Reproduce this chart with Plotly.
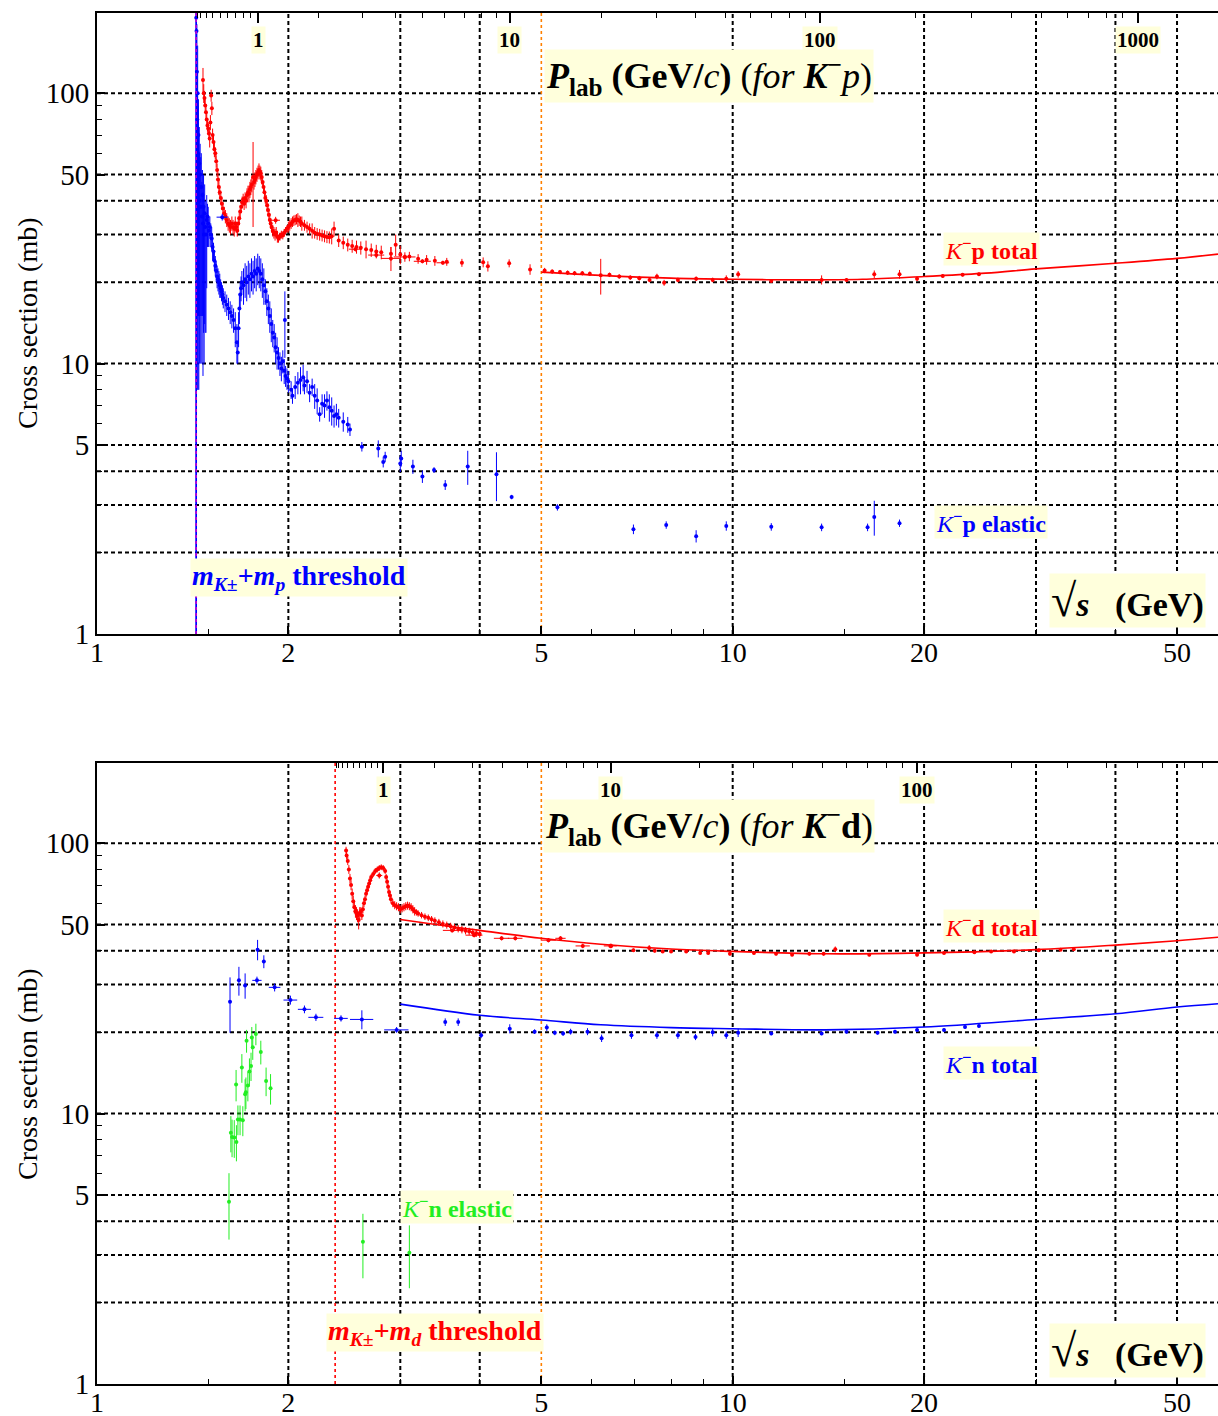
import numpy as np
import plotly.graph_objects as go

# ---------------- physics constants for the P_lab axis ----------------
MK, MP, MD = 0.493677, 0.938272, 1.875613

def sqrt_s(p, mt):
    p = np.asarray(p, float)
    return np.sqrt(MK**2 + mt**2 + 2 * mt * np.sqrt(p**2 + MK**2))

# ---------------- axis ticks ----------------
x_major = [1, 2, 5, 10, 20, 50]
x_minor = [1.5, 3, 4, 6, 7, 8, 9, 15, 30, 40]
y_major = [1, 5, 10, 50, 100]
y_minor = [2, 3, 4, 6, 7, 8, 9, 20, 30, 40, 60, 70, 80, 90]
grid_x = [2, 3, 4, 10, 20, 30, 40, 50]
grid_y = [2, 3, 4, 5, 10, 20, 30, 40, 50, 100]
orange_x = 5
plab_major = [1, 10, 100, 1000]
plab_minor = [0.1, 0.2, 0.3, 0.4, 0.5, 0.6, 0.7, 0.8, 0.9,
              2, 3, 4, 5, 6, 7, 8, 9, 20, 30, 40, 50, 60, 70, 80, 90,
              200, 300, 400, 500, 600, 700, 800, 900]

# ---------------- K-p total (top, red) ----------------
kp_tot_x = [1.468, 1.472, 1.476, 1.480, 1.484, 1.488, 1.492, 1.496, 1.500, 1.504,
            1.508, 1.512, 1.516, 1.520, 1.525, 1.530, 1.535, 1.540, 1.545, 1.550,
            1.555, 1.560, 1.566, 1.572, 1.578, 1.585, 1.592, 1.600, 1.608, 1.615,
            1.622, 1.630, 1.637, 1.644, 1.650, 1.656, 1.662, 1.668, 1.674, 1.680,
            1.686, 1.692, 1.698, 1.704, 1.710, 1.716, 1.722, 1.728, 1.734, 1.740,
            1.746, 1.752, 1.760, 1.766, 1.772, 1.778, 1.785, 1.792, 1.798, 1.804,
            1.810, 1.816, 1.822, 1.828, 1.834, 1.840, 1.846, 1.852, 1.858, 1.864,
            1.870, 1.876, 1.882, 1.890, 1.898, 1.906, 1.914, 1.922, 1.930, 1.940,
            1.950, 1.960, 1.970, 1.980, 1.990, 2.000, 2.010, 2.020, 2.030, 2.040,
            2.050, 2.060, 2.070, 2.080, 2.090, 2.100, 2.120, 2.140, 2.160, 2.180,
            2.200, 2.220, 2.240, 2.260, 2.280, 2.300, 2.320, 2.340, 2.360, 2.400,
            2.440, 2.480, 2.520, 2.560, 2.600, 2.650, 2.700, 2.750, 2.800, 2.900,
            2.950, 3.000, 3.050, 3.100, 3.200, 3.300, 3.400, 3.550, 3.750, 4.050,
            4.120, 4.450, 4.800, 5.060, 5.200, 5.350, 5.500, 5.640, 5.800, 5.960,
            6.200, 6.400, 6.630, 6.900, 7.130, 7.400, 7.600, 7.800, 8.200, 8.760,
            9.300, 9.770, 10.20, 11.50, 13.80, 15.10, 16.70, 18.30, 19.50, 21.40,
            23.00, 24.40]
kp_tot_y = [112, 100, 96, 90, 85, 80, 76, 74, 71, 68,
            78, 98, 88, 70, 66, 62, 60, 56, 52, 48,
            45, 43, 41, 39, 37.5, 36, 35, 34, 33, 32.5,
            32, 33, 32, 31.5, 33, 32, 31, 33, 34.5, 36.5,
            38, 39.5, 40.5, 39, 41, 40, 42, 43, 42.5, 44,
            45, 46, 49, 47, 48, 49, 50, 51, 52, 51,
            50.5, 49, 47, 45, 43, 41, 40, 38.5, 37, 35.5,
            34, 33, 32, 31, 30.5, 30, 30.5, 29.5, 29, 29.5,
            30, 29.8, 30.5, 31, 31.5, 32, 32.5, 33, 33.5, 33.8,
            34, 34.2, 34, 33.8, 33.5, 33, 32.5, 32, 31.5, 31,
            30.5, 30.2, 30, 29.8, 29.6, 29.4, 29.3, 29.6, 31.5, 28.5,
            28, 27.5, 27.2, 27, 26.8, 26.5, 26.3, 26, 25.8, 25.5,
            27.5, 25.3, 24.8, 24.9, 24.4, 24.2, 24, 23.8, 23.6, 23.7,
            22.9, 23.5, 22.3, 22.1, 21.9, 21.8, 21.7, 21.6, 21.6, 21.5,
            21.2, 21.3, 21.0, 20.8, 20.7, 20.4, 21.0, 19.9, 20.4, 20.6,
            20.4, 20.6, 21.4, 20.2, 20.4, 20.4, 21.4, 21.4, 20.6, 21.1,
            21.3, 21.4]
kp_tot_err = [12, 8, 6, 5, 6, 5, 4, 4, 4, 5,
              5, 5, 5, 4, 4, 4, 3, 3, 3, 3,
              3, 2, 2, 2, 2, 2, 2, 2, 2, 2,
              2, 2, 2, 2, 2, 1.5, 1.5, 2, 2, 2,
              2, 2, 2, 2, 2, 2.5, 2.5, 2.5, 3, 3,
              3, 3, 17, 3, 3, 3, 3, 3, 3, 3,
              3, 3, 2, 2, 2, 2, 2, 2, 2, 1.5,
              1.5, 1.5, 1.5, 1.5, 1.5, 1.5, 1.5, 1.5, 1, 1,
              1, 1, 1, 1, 1, 1.5, 1.5, 1.5, 1.5, 1.5,
              1.5, 1.5, 2, 1.5, 1.5, 2, 1.5, 1.5, 1.5, 2,
              1.5, 1.5, 1.5, 1.5, 1.5, 1.5, 1.5, 2, 2, 1.5,
              1.5, 1.5, 1.5, 1.5, 1.5, 2, 1.5, 1.5, 1.5, 1.5,
              2.5, 2, 1, 1, 1, 1, 1, 0.8, 0.8, 1,
              1, 0.8, 1, 0.5, 0.4, 0.4, 0.4, 0.4, 0.4, 0.4,
              3.2, 0.4, 0.4, 0.4, 0.4, 0.4, 0.5, 0.5, 0.4, 0.4,
              0.4, 0.6, 0.6, 0.3, 0.8, 0.3, 0.7, 0.8, 0.4, 0.3,
              0.3, 0.3]
kp_tot_hx = [1.91, 2.55, 2.75, 2.90, 3.05, 3.25, 3.50]
kp_tot_hy = [33.9, 26.5, 25.2, 24.5, 24.8, 23.9, 23.6]
kp_tot_hxerr = [0.03, 0.06, 0.08, 0.10, 0.12, 0.10, 0.08]
kp_tot_hyerr = [1.0, 0.5, 0.5, 2.5, 0.5, 0.4, 0.4]
kp_fit_x = [5.0, 6.2, 8.0, 10.0, 13.0, 16.0, 20.0, 25.0, 30.0, 40.0, 50.0, 58.0]
kp_fit_y = [21.8, 21.2, 20.7, 20.5, 20.4, 20.5, 21.0, 21.6, 22.4, 23.5, 24.5, 25.4]

# ---------------- K-p elastic (top, blue) ----------------
kp_el_thr_x = [1.4325, 1.434, 1.436, 1.438, 1.440, 1.442, 1.444, 1.446, 1.448, 1.450,
               1.453, 1.456, 1.459, 1.462, 1.465, 1.468, 1.471, 1.474, 1.477, 1.480,
               1.484, 1.488, 1.492, 1.496]
kp_el_thr_y = [190, 170, 120, 80, 100, 60, 70, 45, 55, 40,
               50, 38, 45, 35, 42, 33, 38, 30, 36, 32,
               30, 34, 35, 33]
kp_el_thr_ep = [8, 28, 60, 40, 50, 30, 25, 30, 20, 20,
                15, 20, 15, 12, 10, 10, 12, 8, 10, 8,
                6, 8, 4, 5]
kp_el_thr_em = [189, 169, 110, 72, 85, 52, 55, 37, 40, 30,
                35, 28, 30, 25, 27, 24, 25, 20, 22, 19,
                17, 15, 8, 6]
kp_el_x = [1.500, 1.505, 1.510, 1.515, 1.520, 1.525, 1.530, 1.535, 1.540, 1.545,
           1.550, 1.555, 1.560, 1.565, 1.570, 1.575, 1.580, 1.590, 1.600, 1.610,
           1.620, 1.630, 1.640, 1.650, 1.660, 1.665, 1.670, 1.675, 1.680, 1.685,
           1.690, 1.700, 1.710, 1.720, 1.730, 1.740, 1.750, 1.760, 1.770, 1.780,
           1.790, 1.800, 1.810, 1.820, 1.830, 1.840, 1.850, 1.860, 1.870, 1.880,
           1.890, 1.900, 1.910, 1.920, 1.930, 1.940, 1.950, 1.960, 1.970, 1.975,
           1.980, 1.990, 2.000, 2.020, 2.030, 2.050, 2.070, 2.090, 2.110, 2.120,
           2.140, 2.160, 2.180, 2.200, 2.220, 2.240, 2.260, 2.280, 2.300, 2.320,
           2.340, 2.360, 2.380, 2.400, 2.440, 2.480, 2.500, 2.610, 2.770, 2.820,
           2.840, 3.000, 3.010, 3.140, 3.250, 3.390, 3.530, 3.830, 4.250, 4.490,
           5.300, 6.980, 7.860, 8.760, 9.770, 11.50, 13.80, 16.30, 16.70, 18.30]
kp_el_y = [31, 32, 30, 29, 27, 26, 24, 23, 22, 21,
           20.5, 20, 19.5, 19, 18.5, 18, 17.5, 17, 16.5, 16,
           15.5, 15, 14.5, 13.5, 12, 11, 13.5, 16, 18, 19,
           20, 19.5, 20.5, 20, 21, 20.5, 21.5, 21, 22, 21.5,
           22.5, 22, 21.5, 20.5, 19.5, 18.5, 17, 16, 15, 14,
           13, 12.5, 11.5, 11, 10.5, 10, 9.6, 10.2, 9.4, 14.5,
           9.0, 8.8, 8.6, 8.0, 7.6, 8.2, 8.5, 8.7, 8.9, 8.3,
           8.6, 7.8, 8.2, 7.6, 7.3, 6.5, 7.1, 7.0, 7.3, 6.9,
           6.7, 6.4, 6.5, 6.3, 6.1, 5.95, 5.7, 4.93, 4.85, 4.33,
           4.52, 4.27, 4.46, 4.16, 3.82, 4.04, 3.56, 4.16, 3.9, 3.21,
           2.94, 2.44, 2.53, 2.30, 2.51, 2.49, 2.48, 2.48, 2.71, 2.57]
kp_el_err = [4, 3, 3, 3, 3, 2, 2, 2, 2, 2,
             2, 2, 2, 1.5, 1.5, 1.5, 1.5, 1.5, 1.5, 1.5,
             1.5, 1.5, 1.5, 2, 2, 1, 2, 2, 2, 2,
             2, 3, 3, 3, 3, 3, 3, 3, 3, 3,
             3, 3, 3, 3, 3, 2, 2, 2, 2, 2,
             1.5, 1.5, 1.5, 1.5, 1, 1, 1, 1, 1, 4,
             0.8, 0.8, 0.8, 0.6, 0.5, 0.8, 0.8, 1, 1, 0.6,
             0.8, 0.6, 0.6, 0.8, 0.8, 0.4, 0.6, 0.7, 0.6, 0.8,
             0.8, 0.6, 0.6, 0.5, 0.5, 0.4, 0.3, 0.2, 0.35, 0.2,
             0.2, 0.3, 0.3, 0.25, 0.2, 0.1, 0.15, 0.6, 0.8, 0.06,
             0.08, 0.1, 0.08, 0.12, 0.1, 0.08, 0.08, 0.08, 0.4, 0.08]
kp_el_hx = [1.574]
kp_el_hy = [34.8]
kp_el_hxerr = [0.032]

# ---------------- K-d total (bottom, red) ----------------
kd_tot_x = [2.465, 2.470, 2.480, 2.490, 2.500, 2.510, 2.520, 2.530, 2.540, 2.550,
            2.560, 2.570, 2.580, 2.590, 2.600, 2.610, 2.620, 2.630, 2.640, 2.650,
            2.660, 2.670, 2.680, 2.690, 2.700, 2.720, 2.740, 2.760, 2.780, 2.800,
            2.820, 2.840, 2.850, 2.860, 2.870, 2.880, 2.890, 2.900, 2.920, 2.940,
            2.960, 2.980, 3.000, 3.020, 3.040, 3.060, 3.080, 3.100, 3.120, 3.140,
            3.160, 3.180, 3.200, 3.240, 3.280, 3.320, 3.360, 3.400, 3.450, 3.500,
            3.550, 3.600, 3.650, 3.700, 3.750, 3.800, 3.850, 3.900, 3.950, 4.000,
            6.440, 6.980, 7.390, 7.540, 7.760, 8.000, 8.450, 8.890, 9.150, 9.900,
            10.80, 11.70, 12.40, 13.20, 13.90, 14.50, 16.40, 19.50, 21.50, 24.00,
            25.50, 27.70, 30.30, 32.80, 34.40]
kd_tot_y = [94, 90, 86, 80, 74, 70, 65, 61, 58, 56,
            55, 54, 52, 55, 56, 54, 57, 60, 62, 65,
            67, 69, 71, 73, 75, 77, 79, 80, 81, 81.5,
            81, 79, 75, 72, 69, 66, 64, 62, 60, 59,
            58.5, 58, 57, 57.5, 58, 58.5, 58.8, 58.5, 58, 57,
            56, 55.5, 55, 54.2, 53.5, 53, 52.3, 51.7, 51, 50.3,
            49.8, 49.3, 48.8, 48.3, 47.9, 47.5, 47.2, 46.8, 46.5, 46.2,
            41.7, 40.2, 41.0, 40.0, 39.8, 39.8, 39.8, 39.3, 39.3, 39.0,
            39.3, 39.0, 38.7, 39.0, 39.0, 40.5, 38.7, 38.7, 39.3, 39.5,
            39.8, 39.8, 40.2, 40.4, 40.5]
kd_tot_err = [3, 3, 3, 3, 3, 3, 3, 3, 3, 3,
              3, 3, 4, 3, 2, 2, 2, 2, 2, 2,
              2, 2, 2, 2, 2, 2, 2, 2, 2, 2,
              2, 2, 2, 2, 2, 2, 2, 2, 2, 2,
              2, 2, 2, 2, 2, 2, 2, 2, 2, 2,
              2, 1.5, 1.5, 1.5, 1.5, 1.5, 1.5, 1.5, 1.5, 1.5,
              1.5, 1.5, 1.5, 1.5, 1.5, 1.5, 1.5, 1.5, 1.5, 1.5,
              0.8, 0.6, 1.0, 0.6, 0.5, 0.5, 0.5, 0.6, 0.5, 0.6,
              0.6, 0.6, 0.5, 0.6, 0.6, 1.0, 0.5, 0.5, 0.5, 0.4,
              0.4, 0.4, 0.4, 0.4, 0.4]
kd_tot_hx = [2.78, 3.62, 3.92, 4.33, 4.55, 5.13, 5.36, 5.81, 6.42]
kd_tot_hy = [76, 47.6, 45.7, 44.5, 44.5, 43.8, 44.5, 41.7, 41.7]
kd_tot_hxerr = [0.03, 0.12, 0.12, 0.12, 0.12, 0.14, 0.10, 0.15, 0.15]
kd_tot_hyerr = [2, 0.8, 0.8, 0.8, 0.8, 0.8, 0.8, 0.8, 0.8]
kd_fit_x = [3.0, 3.5, 4.0, 5.0, 6.2, 8.0, 10.0, 14.0, 20.0, 30.0, 40.0, 50.0, 58.0]
kd_fit_y = [52.2, 49.6, 47.6, 44.5, 42.3, 40.6, 39.8, 39.0, 39.3, 40.4, 42.0, 43.6, 44.9]

# ---------------- K-n total (bottom, blue) ----------------
kn_tot_x = [1.619, 1.672, 1.710, 1.789, 1.830, 3.530, 3.700, 4.020, 4.460, 4.880,
            5.100, 5.250, 5.410, 5.560, 5.910, 6.220, 6.930, 7.600, 8.200, 8.740,
            9.300, 9.770, 10.20, 11.50, 13.80, 15.10, 16.90, 18.00, 19.50, 21.50,
            23.20, 24.40]
kn_tot_y = [25.9, 31.1, 29.8, 40.4, 36.5, 21.8, 21.8, 19.5, 20.6, 20.1,
            20.8, 19.9, 19.8, 20.1, 20.1, 19.0, 19.5, 19.5, 19.5, 19.2,
            20.0, 19.5, 19.9, 19.8, 19.8, 20.1, 19.9, 20.1, 20.4, 20.4,
            20.9, 21.1]
kn_tot_err = [6, 3.8, 3.2, 3.5, 2, 0.7, 0.7, 0.5, 0.8, 0.4,
              0.6, 0.4, 0.4, 0.5, 0.6, 0.6, 0.6, 0.6, 0.6, 0.5,
              0.7, 0.6, 0.7, 0.3, 0.3, 0.3, 0.3, 0.3, 0.3, 0.3,
              0.3, 0.3]
kn_tot_hx = [1.785, 1.903, 2.015, 2.120, 2.210, 2.420, 2.610, 2.960]
kn_tot_hy = [31.1, 29.3, 26.3, 24.3, 22.7, 22.5, 22.3, 20.4]
kn_tot_hxerr = [0.03, 0.04, 0.05, 0.05, 0.06, 0.06, 0.11, 0.13]
kn_tot_hyerr = [1.0, 1.0, 1.0, 0.8, 0.7, 0.6, 1.8, 0.5]
kn_fit_x = [3.0, 4.0, 5.0, 6.2, 8.0, 10.0, 14.0, 20.0, 30.0, 40.0, 50.0, 58.0]
kn_fit_y = [25.4, 23.1, 22.2, 21.3, 20.8, 20.6, 20.4, 20.9, 22.3, 23.4, 24.8, 25.5]

# ---------------- K-n elastic (bottom, green) ----------------
kn_el_x = [1.613, 1.624, 1.631, 1.644, 1.657, 1.655, 1.666, 1.679, 1.690, 1.696,
           1.710, 1.715, 1.719, 1.727, 1.737, 1.747, 1.752, 1.758, 1.778, 1.810,
           1.845, 1.875, 2.620, 3.100]
kn_el_y = [4.72, 8.49, 8.2, 8.16, 7.86, 12.8, 9.52, 9.52, 14.8, 9.45,
           11.8, 12.0, 18.6, 12.7, 14.3, 15.0, 19.1, 17.6, 19.7, 16.9,
           13.2, 12.4, 3.36, 3.06]
kn_el_err = [1.3, 1.3, 1.3, 1.3, 1.2, 1.7, 1.2, 1.2, 1.8, 1.2,
             1.6, 1.6, 1.8, 1.6, 1.7, 1.8, 1.8, 1.8, 1.8, 1.7,
             1.6, 1.6, 0.9, 0.8]

# ---------------- styling ----------------
RED, BLUE, GREEN = "#FF0000", "#0000FF", "#22EE22"
ORANGE, MAGENTA = "#FF8000", "#CC00CC"
BG = "#FFFFDC"
SERIF = "Liberation Serif"
XR = [0, np.log10(58.0)]
YR = [0, np.log10(198.0)]
W, H = 1218, 1416
ML, MR, MT, MB = 97, 0, 13, 32
TOP_DOM = [(1384 - 634) / (H - MT - MB), 1.0]
BOT_DOM = [0.0, (1384 - 763) / (H - MT - MB)]

def PX(x):
    return (x - ML) / (W - ML - MR)

def PY(y):
    return (H - MB - y) / (H - MT - MB)

fig = go.Figure()

def add_pts(x, y, e, color, xa, ya, em=None, xe=None):
    fig.add_trace(go.Scatter(
        x=x, y=y, mode="markers", xaxis=xa, yaxis=ya,
        marker=dict(color=color, size=4, line=dict(width=0)),
        error_y=dict(type="data", array=e, arrayminus=(em if em is not None else e),
                     color=color, thickness=1, width=0),
        error_x=(dict(type="data", array=xe, color=color, thickness=1, width=0)
                 if xe is not None else dict(visible=False)),
        showlegend=False, hoverinfo="skip"))

def add_fit(x, y, color, xa, ya):
    fig.add_trace(go.Scatter(x=x, y=y, mode="lines", xaxis=xa, yaxis=ya,
                             line=dict(color=color, width=1.6, shape="spline", smoothing=1.0),
                             showlegend=False, hoverinfo="skip"))

# top panel
add_fit(kp_fit_x, kp_fit_y, RED, "x3", "y")
add_pts(kp_tot_x, kp_tot_y, kp_tot_err, RED, "x", "y")
add_pts(kp_tot_hx, kp_tot_hy, kp_tot_hyerr, RED, "x", "y", xe=kp_tot_hxerr)
add_pts(kp_el_thr_x, kp_el_thr_y, kp_el_thr_ep, BLUE, "x", "y", em=kp_el_thr_em)
add_pts(kp_el_x, kp_el_y, kp_el_err, BLUE, "x", "y")
add_pts(kp_el_hx, kp_el_hy, [1.0], BLUE, "x", "y", xe=kp_el_hxerr)

# bottom panel
add_fit(kd_fit_x, kd_fit_y, RED, "x4", "y2")
add_fit(kn_fit_x, kn_fit_y, BLUE, "x4", "y2")
add_pts(kd_tot_x, kd_tot_y, kd_tot_err, RED, "x2", "y2")
add_pts(kd_tot_hx, kd_tot_hy, kd_tot_hyerr, RED, "x2", "y2", xe=kd_tot_hxerr)
add_pts(kn_tot_x, kn_tot_y, kn_tot_err, BLUE, "x2", "y2")
add_pts(kn_tot_hx, kn_tot_hy, kn_tot_hyerr, BLUE, "x2", "y2", xe=kn_tot_hxerr)
add_pts(kn_el_x, kn_el_y, kn_el_err, GREEN, "x2", "y2")

# ---------------- grid & reference lines as shapes ----------------
shapes = []
for xa, ya in (("x", "y"), ("x2", "y2")):
    for v in grid_x:
        shapes.append(dict(type="line", xref=xa, yref=ya + " domain", x0=v, x1=v, y0=0, y1=1,
                           line=dict(color="black", width=2, dash="4px,3px"), layer="below"))
    for v in grid_y:
        shapes.append(dict(type="line", xref=xa + " domain", yref=ya, x0=0, x1=1, y0=v, y1=v,
                           line=dict(color="black", width=2, dash="4px,3px"), layer="below"))
    shapes.append(dict(type="line", xref=xa, yref=ya + " domain", x0=orange_x, x1=orange_x,
                       y0=0, y1=1, line=dict(color=ORANGE, width=1.6, dash="3px,3px"), layer="below"))
thr_p = MK + MP
thr_d = MK + MD
shapes.append(dict(type="line", xref="x", yref="y domain", x0=thr_p, x1=thr_p, y0=0, y1=1,
                   line=dict(color=BLUE, width=1.5), layer="above"))
shapes.append(dict(type="line", xref="x", yref="y domain", x0=thr_p, x1=thr_p, y0=0, y1=1,
                   line=dict(color=MAGENTA, width=1.5, dash="3px,3px"), layer="above"))
shapes.append(dict(type="line", xref="x2", yref="y2 domain", x0=thr_d, x1=thr_d, y0=0, y1=1,
                   line=dict(color=RED, width=1.6, dash="3px,3px"), layer="below"))

# ---------------- axes ----------------
def xbot(anchor):
    return dict(type="log", range=XR, anchor=anchor, domain=[0, 1], automargin=False,
                tickmode="array", tickvals=x_major, ticktext=[str(v) for v in x_major],
                ticks="inside", ticklen=8, tickwidth=1.5, tickcolor="black",
                ticklabelstandoff=-8,
                minor=dict(tickmode="array", tickvals=x_minor, ticks="inside", ticklen=5,
                           tickwidth=1, tickcolor="black", showgrid=False),
                showgrid=False, zeroline=False, showline=True, linecolor="black",
                linewidth=2, mirror=False,
                tickfont=dict(family=SERIF, size=28, color="black"))

def xtop(over, anchor, mt):
    return dict(type="log", range=XR, overlaying=over, side="top", anchor=anchor,
                automargin=False,
                tickmode="array", tickvals=list(sqrt_s(plab_major, mt)), showticklabels=False,
                ticks="inside", ticklen=10, tickwidth=1.5, tickcolor="black",
                minor=dict(tickmode="array", tickvals=list(sqrt_s(plab_minor, mt)),
                           ticks="inside", ticklen=5, tickwidth=1, tickcolor="black",
                           showgrid=False),
                showgrid=False, zeroline=False, showline=True, linecolor="black",
                linewidth=1.5)

def yax(anchor, dom):
    return dict(type="log", range=YR, anchor=anchor, domain=dom, automargin=False,
                tickmode="array", tickvals=y_major, ticktext=[str(v) for v in y_major],
                ticks="inside", ticklen=8, tickwidth=1.5, tickcolor="black",
                minor=dict(tickmode="array", tickvals=y_minor, ticks="inside", ticklen=5,
                           tickwidth=1, tickcolor="black", showgrid=False),
                showgrid=False, zeroline=False, showline=True, linecolor="black",
                linewidth=2, mirror=False,
                tickfont=dict(family=SERIF, size=29, color="black"))

# ---------------- annotations ----------------
ann = []

def label(text, xc, yc, color, size, bg=True, xref="paper", xval=None, angle=0):
    d = dict(text=text, x=(PX(xc) if xval is None else xval), y=PY(yc),
             xref=xref, yref="paper", showarrow=False, xanchor="center", yanchor="middle",
             font=dict(family=SERIF, size=size, color=color), textangle=angle,
             borderpad=1)
    if bg:
        d["bgcolor"] = BG
    ann.append(d)

MINUS = "\u2212"
TITLE_P = ("<b><i>P</i></b><sub><b>lab</b></sub> <b>(GeV/</b><i>c</i><b>)</b> "
           "(<i>for</i> <b><i>K</i></b><sup><b>" + MINUS + "</b></sup>")
label(TITLE_P + "<i>p</i>)", 709, 76, "black", 36)
label(TITLE_P + "<b>d</b>)", 709, 826, "black", 36)
for p, v in zip(plab_major, sqrt_s(plab_major, MP)):
    label("<b>%d</b>" % p, 0, 40, "black", 21, xref="x", xval=float(np.log10(v)))
for p, v in zip(plab_major, sqrt_s(plab_major, MD)):
    label("<b>%d</b>" % p, 0, 790, "black", 21, xref="x2", xval=float(np.log10(v)))
label("<i>K</i><sup><b>" + MINUS + "</b></sup><b>p total</b>", 991, 249, RED, 24)
label("<i>K</i><sup><b>" + MINUS + "</b></sup><b>p elastic</b>", 991, 522, BLUE, 24)
label("<i>K</i><sup><b>" + MINUS + "</b></sup><b>d total</b>", 991, 926, RED, 24)
label("<i>K</i><sup><b>" + MINUS + "</b></sup><b>n total</b>", 991, 1063, BLUE, 24)
label("<i>K</i><sup><b>" + MINUS + "</b></sup><b>n elastic</b>", 457, 1207, GREEN, 24)
label("<b><i>m</i><sub><i>K</i>\u00b1</sub>+<i>m</i><sub><i>p</i></sub> threshold</b>",
      299, 578, BLUE, 28)
label("<b><i>m</i><sub><i>K</i>\u00b1</sub>+<i>m</i><sub><i>d</i></sub> threshold</b>",
      435, 1332, RED, 28)
label("<span style='font-size:46px'>\u221a</span><b><i>s</i>   (GeV)</b>", 1127, 600, "black", 34)
label("<span style='font-size:46px'>\u221a</span><b><i>s</i>   (GeV)</b>", 1127, 1350, "black", 34)
label("Cross section (mb)", 27, 323, "black", 28, bg=False, angle=-90)
label("Cross section (mb)", 27, 1074, "black", 28, bg=False, angle=-90)

fig.update_layout(
    width=W, height=H, margin=dict(l=ML, r=MR, t=MT, b=MB, pad=0),
    paper_bgcolor="white", plot_bgcolor="white", showlegend=False,
    xaxis=xbot("y"), yaxis=yax("x", TOP_DOM),
    xaxis2=xbot("y2"), yaxis2=yax("x2", BOT_DOM),
    xaxis3=xtop("x", "y", MP), xaxis4=xtop("x2", "y2", MD),
    shapes=shapes, annotations=ann,
    font=dict(family=SERIF, color="black"),
)

fig.write_html("out.html", config={"displayModeBar": False},
               post_script="document.body.style.margin='0';document.body.style.overflow='hidden';")
